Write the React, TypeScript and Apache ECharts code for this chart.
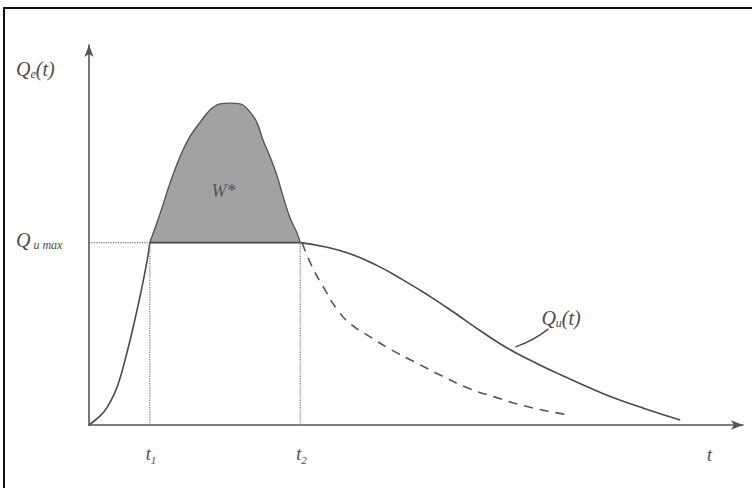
import React, { useEffect, useRef } from "react";
import * as echarts from "echarts";

// Inflow / outflow hydrograph (schematic)
const riseT = [0, 1.7, 2.8, 4.3, 5.8, 7.0, 8.1, 8.9, 9.3];
const riseQ = [0, 2.4, 4.7, 10, 19, 27.6, 36.3, 43.4, 48];
const T1 = 9.3;
const T2 = 32.3;
const QUMAX = 48;
const fallT = [32.3, 36, 40, 44, 48, 52, 56, 60, 64, 68, 72, 76, 80, 85, 90.4];
const fallQ = [48, 46.9, 45.0, 42.0, 38.2, 34.0, 29.4, 24.6, 20.2, 16.6, 13.3, 10.2, 7.3, 4.3, 1.3];
const altT = [32.6, 34, 36, 38, 40, 43, 46, 50, 54, 58, 62, 66, 70, 73.5];
const altQ = [47.9, 42.1, 35.8, 30.3, 26.6, 23.2, 20.0, 16.4, 12.9, 9.7, 7.4, 5.3, 3.7, 2.6];
const inflowT = [9.3, 10.9, 12.4, 13.9, 15.4, 17.0, 18.5, 20.0, 21.6, 23.1, 24.6, 25.7, 26.6, 27.7, 28.8, 29.7, 30.7, 31.8, 32.3];
const inflowQ = [48, 55.8, 63.7, 70.5, 75.8, 79.7, 82.9, 84.5, 84.7, 84.5, 82.4, 79.5, 75.0, 70.5, 65.3, 60.0, 54.7, 50.5, 48];

const zip = (a: number[], b: number[]) => a.map((v, i) => [v, b[i]]);

const INK = "#4a4a4a";
const FONT = "'Liberation Serif', 'DejaVu Serif', serif";

export default function App() {
  const ref = useRef<HTMLDivElement>(null);
  useEffect(() => {
    document.body.style.margin = "0";
    const chart = echarts.init(ref.current!, null, { renderer: "svg" });
    const axisCommon = {
      type: "value" as const,
      min: 0,
      max: 100,
      axisLine: {
        show: true,
        symbol: ["none", "arrow"],
        symbolSize: [7, 12],
        lineStyle: { color: "#555", width: 1.6 },
      },
      axisTick: { show: false },
      axisLabel: { show: false },
      splitLine: { show: false },
    };
    const solid = { color: INK, width: 1.6 };
    const dotted = { color: "#777", width: 1.2, type: "dotted" as const };
    chart.setOption({
      animation: false,
      backgroundColor: "#ffffff",
      grid: { left: 89, right: 9, top: 45, bottom: 63 },
      xAxis: axisCommon,
      yAxis: axisCommon,
      series: [
        {
          type: "line",
          data: zip(inflowT, inflowQ),
          smooth: 0.4,
          showSymbol: false,
          lineStyle: { color: "#555", width: 1.4 },
          areaStyle: { color: "#a2a2a2", opacity: 1, origin: QUMAX },
          z: 2,
        },
        {
          type: "line",
          data: zip(riseT, riseQ),
          smooth: 0.4,
          showSymbol: false,
          lineStyle: solid,
          z: 3,
        },
        {
          type: "line",
          data: [
            [T1, QUMAX],
            [T2, QUMAX],
          ],
          showSymbol: false,
          lineStyle: solid,
          z: 3,
        },
        {
          type: "line",
          data: zip(fallT, fallQ),
          smooth: 0.5,
          showSymbol: false,
          lineStyle: solid,
          z: 3,
        },
        {
          type: "line",
          data: zip(altT, altQ),
          smooth: 0.5,
          showSymbol: false,
          lineStyle: { color: "#555", width: 1.6, type: [9, 7] },
          z: 3,
        },
        {
          type: "line",
          data: [
            [0, QUMAX],
            [T1, QUMAX],
          ],
          showSymbol: false,
          lineStyle: dotted,
        },
        {
          type: "line",
          data: [
            [T1, 0],
            [T1, QUMAX],
          ],
          showSymbol: false,
          lineStyle: dotted,
        },
        {
          type: "line",
          data: [
            [T2, 0],
            [T2, QUMAX],
          ],
          showSymbol: false,
          lineStyle: dotted,
        },
      ],
    });

    const px = (t: number, q: number) => chart.convertToPixel({ gridIndex: 0 }, [t, q]) as number[];
    const pT1 = px(T1, 0);
    const pT2 = px(T2, 0);
    const pQ = px(0, QUMAX);
    const pW = px(21.5, 60);
    const pLead = px(65.2, 19.5);
    const big = { fontSize: 20, fontFamily: FONT, fontStyle: "italic", fill: INK };
    const subRich = (size: number, main = 20) => ({
      q: { fontSize: main, fontFamily: FONT, fontStyle: "italic", fill: INK, lineHeight: 22 },
      s: {
        fontSize: size,
        fontFamily: FONT,
        fontStyle: "italic",
        fill: INK,
        verticalAlign: "bottom",
        lineHeight: 22,
        padding: [6, 0, 0, 0],
      },
    });

    chart.setOption({
      graphic: [
        {
          type: "rect",
          z: 100,
          shape: { x: 4, y: 8, width: 800, height: 600 },
          style: { fill: "none", stroke: "#111", lineWidth: 2 },
          silent: true,
        },
        {
          type: "text",
          z: 100,
          x: 16,
          y: 58,
          style: { text: "{q|Q}{s|e}{q|(t)}", rich: subRich(12), ...big },
        },
        {
          type: "text",
          z: 100,
          x: 16,
          y: pQ[1] - 14,
          style: { text: "{q|Q}{s| u max}", rich: subRich(12), ...big },
        },
        {
          type: "text",
          z: 100,
          x: pT1[0] - 4,
          y: pT1[1] + 18,
          style: { text: "{q|t}{s|1}", rich: subRich(11, 18), ...big },
        },
        {
          type: "text",
          z: 100,
          x: pT2[0] - 4,
          y: pT2[1] + 18,
          style: { text: "{q|t}{s|2}", rich: subRich(11, 18), ...big },
        },
        {
          type: "text",
          z: 100,
          x: 707,
          y: 446,
          style: { text: "t", ...big, fontSize: 18 },
        },
        {
          type: "text",
          z: 100,
          x: pW[0] - 18,
          y: pW[1] - 15,
          style: { text: "W*", fontSize: 18, fontFamily: FONT, fontStyle: "italic", fill: "#555" },
        },
        {
          type: "bezierCurve",
          z: 100,
          shape: {
            x1: pLead[0],
            y1: pLead[1] - 4,
            cpx1: pLead[0] + 18,
            cpy1: pLead[1] - 10,
            x2: pLead[0] + 33,
            y2: pLead[1] - 22,
          },
          style: { stroke: INK, lineWidth: 1.4, fill: "none" },
        },
        {
          type: "text",
          z: 100,
          x: pLead[0] + 26,
          y: pLead[1] - 44,
          style: { text: "{q|Q}{s|u}{q|(t)}", rich: subRich(12), ...big },
        },
      ],
    });
    return () => chart.dispose();
  }, []);
  return (
    <div
      ref={ref}
      style={{ position: "fixed", left: 0, top: 0, width: 752, height: 488, background: "#fff" }}
    />
  );
}
